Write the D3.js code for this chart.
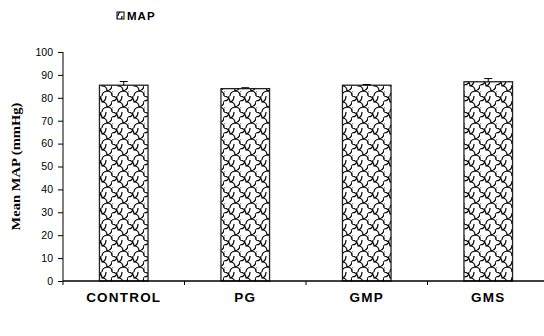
<!DOCTYPE html>
<html>
<head>
<meta charset="utf-8">
<script src="https://cdn.jsdelivr.net/npm/d3@7"></script>
<style>
  body { margin: 0; background: #fff; }
  svg { display: block; }
</style>
</head>
<body>
<div class="chart"></div>
<script>
// data
const categories = ['CONTROL', 'PG', 'GMP', 'GMS'];
const meanMap = [85.5, 84.0, 85.5, 87.0];
const errMap = [1.6, 0.4, 0.3, 1.4];
const yTicks = [0, 10, 20, 30, 40, 50, 60, 70, 80, 90, 100];
const seriesName = 'MAP';

const WIDTH = 544, HEIGHT = 336;
const MARGINS = {top: 52, right: -5, bottom: 55, left: 63};

const svg = d3.select('.chart').append('svg')
  .attr('width', WIDTH)
  .attr('height', HEIGHT);

// interlocking "shingle" fill like the excel pattern
const pat = svg.append('defs').append('pattern')
  .attr('id', 'weave')
  .attr('patternUnits', 'userSpaceOnUse')
  .attr('width', 16)
  .attr('height', 16);
pat.append('rect').attr('width', 16).attr('height', 16).attr('fill', '#fff');
pat.append('path')
  .attr('d', 'M0,0 Q6,1 6,6 Q11,6 11,11 Q16,11 16,16' +
    ' M6,6 Q10,5 10,0 M11,11 Q16,10 16,5 M0,5 Q5,5 5,0' +
    ' M0,11 Q-1,16 -5,16 M6,16 Q6,12 11,11 M0,16 Q1,12 -5,11')
  .attr('fill', 'none')
  .attr('stroke', '#000')
  .attr('stroke-width', 1.2);

const x = d3.scaleBand()
  .domain(categories)
  .range([MARGINS.left, WIDTH - MARGINS.right])
  .paddingInner(0.6)
  .paddingOuter(0.3);

const y = d3.scaleLinear()
  .domain([0, 100])
  .range([HEIGHT - MARGINS.bottom, MARGINS.top]);

const step = x.step();

// bars
svg.selectAll('.bar')
  .data(categories)
  .enter()
  .append('rect')
  .attr('class', 'bar')
  .attr('x', d => x(d))
  .attr('y', (d, i) => y(meanMap[i]))
  .attr('width', x.bandwidth())
  .attr('height', (d, i) => y(0) - y(meanMap[i]))
  .attr('fill', 'url(#weave)')
  .attr('stroke', '#222')
  .attr('stroke-width', 1.3);

// error bars (upper only, like the original)
const eb = svg.selectAll('.err')
  .data(categories)
  .enter()
  .append('g')
  .attr('class', 'err');
eb.append('line')
  .attr('x1', d => x(d) + x.bandwidth() / 2)
  .attr('x2', d => x(d) + x.bandwidth() / 2)
  .attr('y1', (d, i) => y(meanMap[i]))
  .attr('y2', (d, i) => y(meanMap[i] + errMap[i]))
  .attr('stroke', '#000');
eb.append('line')
  .attr('x1', d => x(d) + x.bandwidth() / 2 - 4)
  .attr('x2', d => x(d) + x.bandwidth() / 2 + 4)
  .attr('y1', (d, i) => y(meanMap[i] + errMap[i]))
  .attr('y2', (d, i) => y(meanMap[i] + errMap[i]))
  .attr('stroke', '#000');

// y axis
const yAxis = d3.axisLeft(y)
  .tickValues(yTicks)
  .tickSize(5)
  .tickPadding(5);
const yAxisg = svg.append('g')
  .attr('transform', 'translate(' + MARGINS.left + ',0)')
  .call(yAxis);
yAxisg.selectAll('.domain').remove();
yAxisg.selectAll('.tick line').attr('stroke', '#000');
yAxisg.append('line')
  .attr('x1', 0).attr('x2', 0)
  .attr('y1', y(100)).attr('y2', y(0))
  .attr('stroke', '#000');
yAxisg.selectAll('.tick text')
  .style('font-family', 'Liberation Sans, Arial, sans-serif')
  .style('font-size', '10.5px')
  .style('fill', '#000');

// x axis
svg.append('line')
  .attr('x1', MARGINS.left).attr('x2', WIDTH)
  .attr('y1', y(0)).attr('y2', y(0))
  .attr('stroke', '#000')
  .attr('stroke-width', 1.3);
const bounds = categories.map(d => x(d) + x.bandwidth() / 2 - step / 2);
svg.selectAll('.xtick')
  .data(bounds)
  .enter()
  .append('line')
  .attr('x1', d => d).attr('x2', d => d)
  .attr('y1', y(0)).attr('y2', y(0) + 4)
  .attr('stroke', '#000');
svg.selectAll('.xlab')
  .data(categories)
  .enter()
  .append('text')
  .text(d => d)
  .attr('x', d => x(d) + x.bandwidth() / 2)
  .attr('y', y(0) + 21)
  .attr('text-anchor', 'middle')
  .style('font-family', 'Liberation Sans, Arial, sans-serif')
  .style('font-weight', 'bold')
  .style('font-size', '13.5px')
  .style('letter-spacing', '1.2px');

// y title
svg.append('text')
  .text('Mean MAP (mmHg)')
  .attr('transform', 'translate(20,' + ((y(0) + y(100)) / 2) + ') rotate(-90) scale(1.08,1)')
  .attr('text-anchor', 'middle')
  .style('font-family', 'Liberation Serif, Times New Roman, serif')
  .style('font-weight', 'bold')
  .style('font-size', '13.5px');

// legend
svg.append('rect')
  .attr('x', 117).attr('y', 12)
  .attr('width', 7).attr('height', 7)
  .attr('fill', 'url(#weave)')
  .attr('stroke', '#000');
svg.append('text')
  .text(seriesName)
  .attr('x', 127)
  .attr('y', 20)
  .style('font-family', 'Liberation Sans, Arial, sans-serif')
  .style('font-weight', 'bold')
  .style('font-size', '11.5px')
  .style('letter-spacing', '1px');
</script>
</body>
</html>
